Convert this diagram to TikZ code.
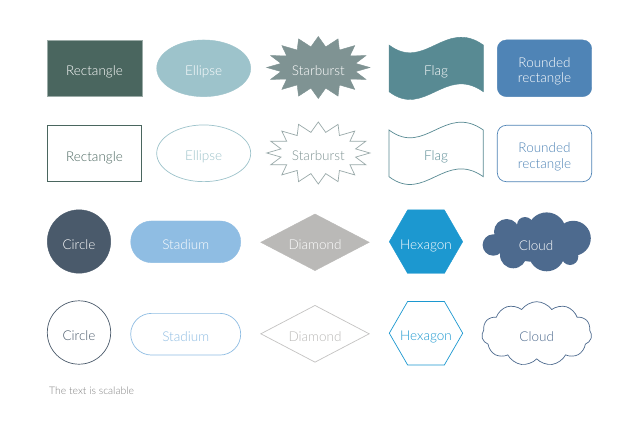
\documentclass[tikz,border=0pt]{standalone}
\usepackage{fontspec}
\setmainfont{Lato}[UprightFont=* Light]
\usetikzlibrary{shapes.geometric,shapes.misc,shapes.symbols}
\definecolor{rectc}{HTML}{4A665F}
\definecolor{ellc}{HTML}{9DC3CB}
\definecolor{starc}{HTML}{7F9393}
\definecolor{flagc}{HTML}{588A93}
\definecolor{roundc}{HTML}{4F84B6}
\definecolor{circc}{HTML}{4A5A6B}
\definecolor{stadc}{HTML}{8FBDE3}
\definecolor{diamc}{HTML}{BAB9B7}
\definecolor{hexc}{HTML}{1C98D0}
\definecolor{cloudc}{HTML}{4D6A8E}
\newcommand\shapefont{\fontsize{13.5}{15.8}\selectfont}
\tikzset{
	shapebox/.style={inner sep=0pt, font=\shapefont, align=center, text height=15pt, text depth=0pt},
	filled/.style={shapebox, fill=#1, draw=#1, text=white},
	outlined/.style={shapebox, draw=#1, text=#1, fill=white, line width=0.7pt}
}

\begin{document}
\begin{tikzpicture}[x=1pt, y=-1pt]
				\useasboundingbox[fill=white] (0, 0) rectangle (640, 428);
				
				\node[filled=rectc, draw=rectc!55, minimum width=94.4, minimum height=56.7] (rect1) at (94.5, 68.3) {Rectangle};
				\node[outlined=rectc, minimum width=94.4, minimum height=56.4] (rect2) at (94.5, 153.5) {Rectangle};
				
				\node[filled=ellc, ellipse, minimum width=94, minimum height=56.7] (ell1) at (203.7, 68.3) {Ellipse};
				\node[outlined=ellc, ellipse, minimum width=94, minimum height=56.7] (ell2) at (203.7, 153.3) {Ellipse};
				
				\begin{scope}[shift={(318.3, 67.5)}]
					\draw[fill=starc, draw=starc] (0:51.6 and 31) \foreach \a in {0,22.5,...,337.5} { -- (\a:51.6 and 31) -- (\a+11.25:38 and 21)} -- cycle;
				\end{scope}
				\node[shapebox, text=white] (star1) at (318.3, 67.5) {Starburst};
				\begin{scope}[shift={(318.3, 153)}]
					\draw[fill=white, draw=starc!80, line width=0.7pt] (0:51.6 and 31) \foreach \a in {0,22.5,...,337.5} { -- (\a:51.6 and 31) -- (\a+11.25:38 and 21)} -- cycle;
				\end{scope}
				\node[shapebox, text=starc] (star2) at (318.3, 153) {Starburst};
				
				\draw[fill=flagc, draw=flagc] (389, 45) .. controls (425, 72) and (445, 18) .. (483.3, 45) -- (483.3, 91.7) .. controls (445, 64.7) and (425, 118.7) .. (389, 91.7) -- cycle;
				\node[shapebox, text=white] (flag1) at (436, 68.3) {Flag};
				\draw[fill=white, draw=flagc, line width=0.7pt] (389, 130) .. controls (425, 157) and (445, 103) .. (483.3, 130) -- (483.3, 176.7) .. controls (445, 149.7) and (425, 203.7) .. (389, 176.7) -- cycle;
				\node[shapebox, text=flagc] (flag2) at (436, 153.3) {Flag};
				
				\node[filled=roundc, rounded corners=9pt, minimum width=94.4, minimum height=56.7, label={[shapebox, text height=, text depth=, text=white, yshift=-3pt]center:Rounded\\rectangle}] (round1) at (544.5, 68.3) {};
				\node[outlined=roundc, rounded corners=9pt, minimum width=94.4, minimum height=56.4, label={[shapebox, text height=, text depth=, text=roundc, yshift=-3pt]center:Rounded\\rectangle}] (round2) at (544.5, 153.5) {};
				
				\node[filled=circc, circle, minimum size=63.4] (circ1) at (79, 241.5) {Circle};
				\node[outlined=circc, circle, minimum size=63.4] (circ2) at (79, 332.5) {Circle};
				
				\node[filled=stadc, rounded rectangle, minimum width=110, minimum height=41.7] (stad1) at (185.7, 241.8) {Stadium};
				\node[outlined=stadc, rounded rectangle, minimum width=110, minimum height=41.7] (stad2) at (185.7, 334.2) {Stadium};
				
				\node[filled=diamc, diamond, aspect=1.9, minimum width=108.6, minimum height=56.7] (diam1) at (315, 242.3) {Diamond};
				\node[outlined=diamc!85, text=diamc, diamond, aspect=1.9, minimum width=108.6, minimum height=57] (diam2) at (315, 333.8) {Diamond};
				
				\node[filled=hexc, regular polygon, regular polygon sides=6, minimum size=73.4] (hex1) at (426, 241.7) {\makebox[0pt]{Hexagon}};
				\node[outlined=hexc, regular polygon, regular polygon sides=6, minimum size=73.4] (hex2) at (426, 333.2) {\makebox[0pt]{Hexagon}};
				
				\fill[cloudc] (493.3, 245) circle (10.7) (506.7, 231.7) circle (12.7) (525, 225) circle (8) (546.7, 231.7) circle (19.3) (573.3, 238.3) circle (17.5) (570, 256.7) circle (8.3) (546.7, 253.3) circle (18) (513.3, 255) circle (13.3) (537, 245) ellipse (35 and 17);
				\node[shapebox, text=white] (cloud1) at (536, 242.5) {Cloud};
				\node[outlined=cloudc, cloud, cloud puffs=11, cloud puff arc=110, aspect=1.8, minimum width=110, minimum height=64] (cloud2) at (536.7, 333.7) {Cloud};
				
				\node[anchor=base west, inner sep=0pt, font=\fontsize{10.4}{12}\selectfont, text=black!50] (note) at (49, 394) {The text is scalable};
\end{tikzpicture}
\end{document}
